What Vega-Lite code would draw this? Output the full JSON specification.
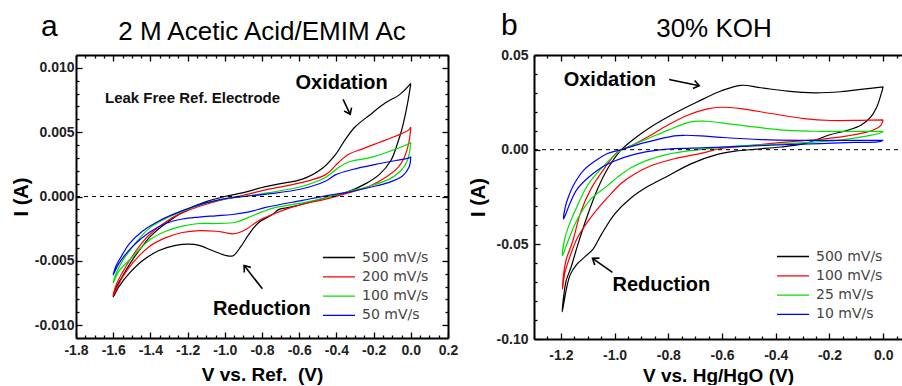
{
  "$schema": "https://vega.github.io/schema/vega-lite/v6.json",
  "padding": {"left": 11, "top": 11, "right": 0, "bottom": 0},
  "spacing": 10,
  "config": {
    "view": {"stroke": null},
    "axis": {"labelFont": "Liberation Sans", "labelFontWeight": "bold", "labelFontSize": 14, "labelColor": "#222", "titleFont": "Liberation Sans", "titleFontWeight": "bold", "titleFontSize": 19, "titleColor": "#000", "domainColor": "#000", "domainWidth": 2, "tickColor": "#000", "tickWidth": 1.3, "grid": false, "labelOverlap": false, "labelBound": false, "labelFlush": false},
    "axisY": {"titleFontSize": 20},
    "legend": {"orient": "none", "title": null, "symbolType": "stroke", "symbolSize": 1024, "symbolStrokeWidth": 1.3, "labelFont": "DejaVu Sans", "labelFontSize": 14, "labelColor": "#444", "labelOffset": 6, "clipHeight": 15, "rowPadding": 4.3, "padding": 0}
  },
  "datasets": {
    "cvA": [
      {"rate": "500 mV/s", "step": 1, "V": 0, "I": 0.0088},
      {"rate": "500 mV/s", "step": 2, "V": -0.018, "I": 0.0072},
      {"rate": "500 mV/s", "step": 3, "V": -0.045, "I": 0.0054},
      {"rate": "500 mV/s", "step": 4, "V": -0.072, "I": 0.0041},
      {"rate": "500 mV/s", "step": 5, "V": -0.107, "I": 0.0028},
      {"rate": "500 mV/s", "step": 6, "V": -0.17, "I": 0.0017},
      {"rate": "500 mV/s", "step": 7, "V": -0.242, "I": 0.001},
      {"rate": "500 mV/s", "step": 8, "V": -0.349, "I": 0.0003},
      {"rate": "500 mV/s", "step": 9, "V": -0.457, "I": -0.0001},
      {"rate": "500 mV/s", "step": 10, "V": -0.583, "I": -0.0006},
      {"rate": "500 mV/s", "step": 11, "V": -0.654, "I": -0.00085},
      {"rate": "500 mV/s", "step": 12, "V": -0.708, "I": -0.001},
      {"rate": "500 mV/s", "step": 13, "V": -0.744, "I": -0.0014},
      {"rate": "500 mV/s", "step": 14, "V": -0.816, "I": -0.002},
      {"rate": "500 mV/s", "step": 15, "V": -0.869, "I": -0.0029},
      {"rate": "500 mV/s", "step": 16, "V": -0.914, "I": -0.0039},
      {"rate": "500 mV/s", "step": 17, "V": -0.955, "I": -0.0046},
      {"rate": "500 mV/s", "step": 18, "V": -0.99, "I": -0.0046},
      {"rate": "500 mV/s", "step": 19, "V": -1.067, "I": -0.0042},
      {"rate": "500 mV/s", "step": 20, "V": -1.138, "I": -0.0038},
      {"rate": "500 mV/s", "step": 21, "V": -1.192, "I": -0.0037},
      {"rate": "500 mV/s", "step": 22, "V": -1.264, "I": -0.0038},
      {"rate": "500 mV/s", "step": 23, "V": -1.354, "I": -0.0042},
      {"rate": "500 mV/s", "step": 24, "V": -1.443, "I": -0.005},
      {"rate": "500 mV/s", "step": 25, "V": -1.515, "I": -0.006},
      {"rate": "500 mV/s", "step": 26, "V": -1.569, "I": -0.007},
      {"rate": "500 mV/s", "step": 27, "V": -1.6, "I": -0.0078},
      {"rate": "500 mV/s", "step": 28, "V": -1.585, "I": -0.0071},
      {"rate": "500 mV/s", "step": 29, "V": -1.55, "I": -0.0062},
      {"rate": "500 mV/s", "step": 30, "V": -1.5, "I": -0.005},
      {"rate": "500 mV/s", "step": 31, "V": -1.45, "I": -0.004},
      {"rate": "500 mV/s", "step": 32, "V": -1.4, "I": -0.0031},
      {"rate": "500 mV/s", "step": 33, "V": -1.3, "I": -0.0019},
      {"rate": "500 mV/s", "step": 34, "V": -1.2, "I": -0.001},
      {"rate": "500 mV/s", "step": 35, "V": -1.1, "I": -0.0004},
      {"rate": "500 mV/s", "step": 36, "V": -1.0, "I": 0},
      {"rate": "500 mV/s", "step": 37, "V": -0.9, "I": 0.0003},
      {"rate": "500 mV/s", "step": 38, "V": -0.8, "I": 0.0007},
      {"rate": "500 mV/s", "step": 39, "V": -0.7, "I": 0.001},
      {"rate": "500 mV/s", "step": 40, "V": -0.583, "I": 0.00135},
      {"rate": "500 mV/s", "step": 41, "V": -0.475, "I": 0.0022},
      {"rate": "500 mV/s", "step": 42, "V": -0.403, "I": 0.0033},
      {"rate": "500 mV/s", "step": 43, "V": -0.349, "I": 0.0045},
      {"rate": "500 mV/s", "step": 44, "V": -0.3, "I": 0.0054},
      {"rate": "500 mV/s", "step": 45, "V": -0.224, "I": 0.0063},
      {"rate": "500 mV/s", "step": 46, "V": -0.134, "I": 0.0073},
      {"rate": "500 mV/s", "step": 47, "V": -0.062, "I": 0.0079},
      {"rate": "500 mV/s", "step": 48, "V": 0, "I": 0.0088},

      {"rate": "200 mV/s", "step": 1, "V": 0, "I": 0.0054},
      {"rate": "200 mV/s", "step": 2, "V": -0.009, "I": 0.0043},
      {"rate": "200 mV/s", "step": 3, "V": -0.036, "I": 0.003},
      {"rate": "200 mV/s", "step": 4, "V": -0.072, "I": 0.0022},
      {"rate": "200 mV/s", "step": 5, "V": -0.134, "I": 0.0015},
      {"rate": "200 mV/s", "step": 6, "V": -0.224, "I": 0.0008},
      {"rate": "200 mV/s", "step": 7, "V": -0.331, "I": 0.0003},
      {"rate": "200 mV/s", "step": 8, "V": -0.457, "I": -0.0002},
      {"rate": "200 mV/s", "step": 9, "V": -0.583, "I": -0.0006},
      {"rate": "200 mV/s", "step": 10, "V": -0.654, "I": -0.0009},
      {"rate": "200 mV/s", "step": 11, "V": -0.744, "I": -0.0014},
      {"rate": "200 mV/s", "step": 12, "V": -0.82, "I": -0.0019},
      {"rate": "200 mV/s", "step": 13, "V": -0.88, "I": -0.0025},
      {"rate": "200 mV/s", "step": 14, "V": -0.923, "I": -0.0028},
      {"rate": "200 mV/s", "step": 15, "V": -0.959, "I": -0.0029},
      {"rate": "200 mV/s", "step": 16, "V": -1.0, "I": -0.0028},
      {"rate": "200 mV/s", "step": 17, "V": -1.049, "I": -0.0027},
      {"rate": "200 mV/s", "step": 18, "V": -1.138, "I": -0.00265},
      {"rate": "200 mV/s", "step": 19, "V": -1.228, "I": -0.0028},
      {"rate": "200 mV/s", "step": 20, "V": -1.317, "I": -0.0032},
      {"rate": "200 mV/s", "step": 21, "V": -1.407, "I": -0.0039},
      {"rate": "200 mV/s", "step": 22, "V": -1.497, "I": -0.0052},
      {"rate": "200 mV/s", "step": 23, "V": -1.551, "I": -0.0063},
      {"rate": "200 mV/s", "step": 24, "V": -1.6, "I": -0.0077},
      {"rate": "200 mV/s", "step": 25, "V": -1.585, "I": -0.0069},
      {"rate": "200 mV/s", "step": 26, "V": -1.55, "I": -0.0059},
      {"rate": "200 mV/s", "step": 27, "V": -1.5, "I": -0.0047},
      {"rate": "200 mV/s", "step": 28, "V": -1.45, "I": -0.0037},
      {"rate": "200 mV/s", "step": 29, "V": -1.4, "I": -0.0029},
      {"rate": "200 mV/s", "step": 30, "V": -1.3, "I": -0.0018},
      {"rate": "200 mV/s", "step": 31, "V": -1.2, "I": -0.0011},
      {"rate": "200 mV/s", "step": 32, "V": -1.1, "I": -0.0006},
      {"rate": "200 mV/s", "step": 33, "V": -1.0, "I": -0.0002},
      {"rate": "200 mV/s", "step": 34, "V": -0.9, "I": 0.0001},
      {"rate": "200 mV/s", "step": 35, "V": -0.762, "I": 0.00057},
      {"rate": "200 mV/s", "step": 36, "V": -0.583, "I": 0.0011},
      {"rate": "200 mV/s", "step": 37, "V": -0.457, "I": 0.0017},
      {"rate": "200 mV/s", "step": 38, "V": -0.385, "I": 0.0027},
      {"rate": "200 mV/s", "step": 39, "V": -0.331, "I": 0.0033},
      {"rate": "200 mV/s", "step": 40, "V": -0.26, "I": 0.0037},
      {"rate": "200 mV/s", "step": 41, "V": -0.17, "I": 0.0042},
      {"rate": "200 mV/s", "step": 42, "V": -0.08, "I": 0.0047},
      {"rate": "200 mV/s", "step": 43, "V": -0.009, "I": 0.0052},
      {"rate": "200 mV/s", "step": 44, "V": 0, "I": 0.0054},

      {"rate": "100 mV/s", "step": 1, "V": 0, "I": 0.0042},
      {"rate": "100 mV/s", "step": 2, "V": -0.018, "I": 0.0028},
      {"rate": "100 mV/s", "step": 3, "V": -0.054, "I": 0.002},
      {"rate": "100 mV/s", "step": 4, "V": -0.116, "I": 0.00135},
      {"rate": "100 mV/s", "step": 5, "V": -0.224, "I": 0.0008},
      {"rate": "100 mV/s", "step": 6, "V": -0.331, "I": 0.0004},
      {"rate": "100 mV/s", "step": 7, "V": -0.457, "I": -0.0001},
      {"rate": "100 mV/s", "step": 8, "V": -0.583, "I": -0.0005},
      {"rate": "100 mV/s", "step": 9, "V": -0.726, "I": -0.00085},
      {"rate": "100 mV/s", "step": 10, "V": -0.8, "I": -0.0012},
      {"rate": "100 mV/s", "step": 11, "V": -0.869, "I": -0.0016},
      {"rate": "100 mV/s", "step": 12, "V": -0.941, "I": -0.002},
      {"rate": "100 mV/s", "step": 13, "V": -1.049, "I": -0.0021},
      {"rate": "100 mV/s", "step": 14, "V": -1.138, "I": -0.0021},
      {"rate": "100 mV/s", "step": 15, "V": -1.228, "I": -0.0023},
      {"rate": "100 mV/s", "step": 16, "V": -1.317, "I": -0.0027},
      {"rate": "100 mV/s", "step": 17, "V": -1.407, "I": -0.0034},
      {"rate": "100 mV/s", "step": 18, "V": -1.497, "I": -0.0047},
      {"rate": "100 mV/s", "step": 19, "V": -1.569, "I": -0.0058},
      {"rate": "100 mV/s", "step": 20, "V": -1.6, "I": -0.0067},
      {"rate": "100 mV/s", "step": 21, "V": -1.585, "I": -0.006},
      {"rate": "100 mV/s", "step": 22, "V": -1.55, "I": -0.005},
      {"rate": "100 mV/s", "step": 23, "V": -1.5, "I": -0.004},
      {"rate": "100 mV/s", "step": 24, "V": -1.45, "I": -0.0031},
      {"rate": "100 mV/s", "step": 25, "V": -1.4, "I": -0.0024},
      {"rate": "100 mV/s", "step": 26, "V": -1.3, "I": -0.0016},
      {"rate": "100 mV/s", "step": 27, "V": -1.2, "I": -0.001},
      {"rate": "100 mV/s", "step": 28, "V": -1.1, "I": -0.0005},
      {"rate": "100 mV/s", "step": 29, "V": -1.0, "I": -0.0002},
      {"rate": "100 mV/s", "step": 30, "V": -0.9, "I": 0},
      {"rate": "100 mV/s", "step": 31, "V": -0.762, "I": 0.0003},
      {"rate": "100 mV/s", "step": 32, "V": -0.583, "I": 0.0008},
      {"rate": "100 mV/s", "step": 33, "V": -0.457, "I": 0.0015},
      {"rate": "100 mV/s", "step": 34, "V": -0.385, "I": 0.0023},
      {"rate": "100 mV/s", "step": 35, "V": -0.331, "I": 0.0027},
      {"rate": "100 mV/s", "step": 36, "V": -0.224, "I": 0.003},
      {"rate": "100 mV/s", "step": 37, "V": -0.116, "I": 0.0035},
      {"rate": "100 mV/s", "step": 38, "V": -0.027, "I": 0.004},
      {"rate": "100 mV/s", "step": 39, "V": 0, "I": 0.0042},

      {"rate": "50 mV/s", "step": 1, "V": 0, "I": 0.0031},
      {"rate": "50 mV/s", "step": 2, "V": -0.009, "I": 0.0023},
      {"rate": "50 mV/s", "step": 3, "V": -0.045, "I": 0.0016},
      {"rate": "50 mV/s", "step": 4, "V": -0.116, "I": 0.0011},
      {"rate": "50 mV/s", "step": 5, "V": -0.224, "I": 0.0007},
      {"rate": "50 mV/s", "step": 6, "V": -0.349, "I": 0.0003},
      {"rate": "50 mV/s", "step": 7, "V": -0.457, "I": 0.00005},
      {"rate": "50 mV/s", "step": 8, "V": -0.583, "I": -0.0003},
      {"rate": "50 mV/s", "step": 9, "V": -0.78, "I": -0.00085},
      {"rate": "50 mV/s", "step": 10, "V": -0.869, "I": -0.0012},
      {"rate": "50 mV/s", "step": 11, "V": -0.959, "I": -0.0014},
      {"rate": "50 mV/s", "step": 12, "V": -1.049, "I": -0.0015},
      {"rate": "50 mV/s", "step": 13, "V": -1.138, "I": -0.0016},
      {"rate": "50 mV/s", "step": 14, "V": -1.228, "I": -0.00175},
      {"rate": "50 mV/s", "step": 15, "V": -1.317, "I": -0.0021},
      {"rate": "50 mV/s", "step": 16, "V": -1.407, "I": -0.0028},
      {"rate": "50 mV/s", "step": 17, "V": -1.497, "I": -0.0039},
      {"rate": "50 mV/s", "step": 18, "V": -1.569, "I": -0.0052},
      {"rate": "50 mV/s", "step": 19, "V": -1.6, "I": -0.0061},
      {"rate": "50 mV/s", "step": 20, "V": -1.585, "I": -0.0054},
      {"rate": "50 mV/s", "step": 21, "V": -1.55, "I": -0.0045},
      {"rate": "50 mV/s", "step": 22, "V": -1.515, "I": -0.0037},
      {"rate": "50 mV/s", "step": 23, "V": -1.443, "I": -0.0027},
      {"rate": "50 mV/s", "step": 24, "V": -1.354, "I": -0.0019},
      {"rate": "50 mV/s", "step": 25, "V": -1.228, "I": -0.0011},
      {"rate": "50 mV/s", "step": 26, "V": -1.102, "I": -0.0005},
      {"rate": "50 mV/s", "step": 27, "V": -1.013, "I": -0.0002},
      {"rate": "50 mV/s", "step": 28, "V": -0.9, "I": 0},
      {"rate": "50 mV/s", "step": 29, "V": -0.762, "I": 0.0002},
      {"rate": "50 mV/s", "step": 30, "V": -0.583, "I": 0.0006},
      {"rate": "50 mV/s", "step": 31, "V": -0.457, "I": 0.0012},
      {"rate": "50 mV/s", "step": 32, "V": -0.403, "I": 0.0017},
      {"rate": "50 mV/s", "step": 33, "V": -0.313, "I": 0.0021},
      {"rate": "50 mV/s", "step": 34, "V": -0.188, "I": 0.0025},
      {"rate": "50 mV/s", "step": 35, "V": -0.08, "I": 0.0028},
      {"rate": "50 mV/s", "step": 36, "V": -0.009, "I": 0.003},
      {"rate": "50 mV/s", "step": 37, "V": 0, "I": 0.0031}
    ],
    "cvB": [
      {"rate": "500 mV/s", "step": 1, "V": 0, "I": 0.0332},
      {"rate": "500 mV/s", "step": 2, "V": -0.009, "I": 0.0288},
      {"rate": "500 mV/s", "step": 3, "V": -0.021, "I": 0.0235},
      {"rate": "500 mV/s", "step": 4, "V": -0.046, "I": 0.0173},
      {"rate": "500 mV/s", "step": 5, "V": -0.083, "I": 0.0129},
      {"rate": "500 mV/s", "step": 6, "V": -0.133, "I": 0.0102},
      {"rate": "500 mV/s", "step": 7, "V": -0.195, "I": 0.008},
      {"rate": "500 mV/s", "step": 8, "V": -0.244, "I": 0.0055},
      {"rate": "500 mV/s", "step": 9, "V": -0.294, "I": 0.0032},
      {"rate": "500 mV/s", "step": 10, "V": -0.381, "I": 0.0014},
      {"rate": "500 mV/s", "step": 11, "V": -0.48, "I": 0.0002},
      {"rate": "500 mV/s", "step": 12, "V": -0.55, "I": -0.0008},
      {"rate": "500 mV/s", "step": 13, "V": -0.617, "I": -0.0025},
      {"rate": "500 mV/s", "step": 14, "V": -0.716, "I": -0.0075},
      {"rate": "500 mV/s", "step": 15, "V": -0.803, "I": -0.014},
      {"rate": "500 mV/s", "step": 16, "V": -0.877, "I": -0.0195},
      {"rate": "500 mV/s", "step": 17, "V": -0.939, "I": -0.0255},
      {"rate": "500 mV/s", "step": 18, "V": -1.0, "I": -0.034},
      {"rate": "500 mV/s", "step": 19, "V": -1.05, "I": -0.045},
      {"rate": "500 mV/s", "step": 20, "V": -1.08, "I": -0.0525},
      {"rate": "500 mV/s", "step": 21, "V": -1.11, "I": -0.0565},
      {"rate": "500 mV/s", "step": 22, "V": -1.14, "I": -0.0605},
      {"rate": "500 mV/s", "step": 23, "V": -1.165, "I": -0.066},
      {"rate": "500 mV/s", "step": 24, "V": -1.18, "I": -0.074},
      {"rate": "500 mV/s", "step": 25, "V": -1.195, "I": -0.0857},
      {"rate": "500 mV/s", "step": 26, "V": -1.19, "I": -0.078},
      {"rate": "500 mV/s", "step": 27, "V": -1.18, "I": -0.069},
      {"rate": "500 mV/s", "step": 28, "V": -1.163, "I": -0.0625},
      {"rate": "500 mV/s", "step": 29, "V": -1.138, "I": -0.0507},
      {"rate": "500 mV/s", "step": 30, "V": -1.101, "I": -0.0348},
      {"rate": "500 mV/s", "step": 31, "V": -1.063, "I": -0.0207},
      {"rate": "500 mV/s", "step": 32, "V": -1.026, "I": -0.0101},
      {"rate": "500 mV/s", "step": 33, "V": -0.977, "I": -0.0004},
      {"rate": "500 mV/s", "step": 34, "V": -0.927, "I": 0.0058},
      {"rate": "500 mV/s", "step": 35, "V": -0.865, "I": 0.012},
      {"rate": "500 mV/s", "step": 36, "V": -0.778, "I": 0.0191},
      {"rate": "500 mV/s", "step": 37, "V": -0.691, "I": 0.0253},
      {"rate": "500 mV/s", "step": 38, "V": -0.604, "I": 0.031},
      {"rate": "500 mV/s", "step": 39, "V": -0.53, "I": 0.034},
      {"rate": "500 mV/s", "step": 40, "V": -0.455, "I": 0.0327},
      {"rate": "500 mV/s", "step": 41, "V": -0.356, "I": 0.0309},
      {"rate": "500 mV/s", "step": 42, "V": -0.257, "I": 0.03},
      {"rate": "500 mV/s", "step": 43, "V": -0.158, "I": 0.0306},
      {"rate": "500 mV/s", "step": 44, "V": -0.083, "I": 0.0318},
      {"rate": "500 mV/s", "step": 45, "V": 0, "I": 0.0332},

      {"rate": "100 mV/s", "step": 1, "V": 0, "I": 0.0157},
      {"rate": "100 mV/s", "step": 2, "V": -0.008, "I": 0.013},
      {"rate": "100 mV/s", "step": 3, "V": -0.021, "I": 0.0115},
      {"rate": "100 mV/s", "step": 4, "V": -0.058, "I": 0.0094},
      {"rate": "100 mV/s", "step": 5, "V": -0.133, "I": 0.0073},
      {"rate": "100 mV/s", "step": 6, "V": -0.232, "I": 0.0055},
      {"rate": "100 mV/s", "step": 7, "V": -0.356, "I": 0.0041},
      {"rate": "100 mV/s", "step": 8, "V": -0.48, "I": 0.0024},
      {"rate": "100 mV/s", "step": 9, "V": -0.604, "I": 0.0006},
      {"rate": "100 mV/s", "step": 10, "V": -0.679, "I": -0.002},
      {"rate": "100 mV/s", "step": 11, "V": -0.778, "I": -0.0048},
      {"rate": "100 mV/s", "step": 12, "V": -0.865, "I": -0.0085},
      {"rate": "100 mV/s", "step": 13, "V": -0.927, "I": -0.013},
      {"rate": "100 mV/s", "step": 14, "V": -0.977, "I": -0.018},
      {"rate": "100 mV/s", "step": 15, "V": -1.008, "I": -0.0225},
      {"rate": "100 mV/s", "step": 16, "V": -1.05, "I": -0.029},
      {"rate": "100 mV/s", "step": 17, "V": -1.1, "I": -0.038},
      {"rate": "100 mV/s", "step": 18, "V": -1.14, "I": -0.047},
      {"rate": "100 mV/s", "step": 19, "V": -1.165, "I": -0.056},
      {"rate": "100 mV/s", "step": 20, "V": -1.185, "I": -0.065},
      {"rate": "100 mV/s", "step": 21, "V": -1.194, "I": -0.0737},
      {"rate": "100 mV/s", "step": 22, "V": -1.19, "I": -0.066},
      {"rate": "100 mV/s", "step": 23, "V": -1.18, "I": -0.058},
      {"rate": "100 mV/s", "step": 24, "V": -1.157, "I": -0.0489},
      {"rate": "100 mV/s", "step": 25, "V": -1.126, "I": -0.033},
      {"rate": "100 mV/s", "step": 26, "V": -1.088, "I": -0.0207},
      {"rate": "100 mV/s", "step": 27, "V": -1.039, "I": -0.0101},
      {"rate": "100 mV/s", "step": 28, "V": -0.989, "I": -0.0012},
      {"rate": "100 mV/s", "step": 29, "V": -0.939, "I": 0.002},
      {"rate": "100 mV/s", "step": 30, "V": -0.877, "I": 0.0067},
      {"rate": "100 mV/s", "step": 31, "V": -0.803, "I": 0.0129},
      {"rate": "100 mV/s", "step": 32, "V": -0.728, "I": 0.0182},
      {"rate": "100 mV/s", "step": 33, "V": -0.654, "I": 0.0215},
      {"rate": "100 mV/s", "step": 34, "V": -0.604, "I": 0.0224},
      {"rate": "100 mV/s", "step": 35, "V": -0.53, "I": 0.0217},
      {"rate": "100 mV/s", "step": 36, "V": -0.418, "I": 0.0191},
      {"rate": "100 mV/s", "step": 37, "V": -0.294, "I": 0.0164},
      {"rate": "100 mV/s", "step": 38, "V": -0.195, "I": 0.0154},
      {"rate": "100 mV/s", "step": 39, "V": -0.083, "I": 0.0155},
      {"rate": "100 mV/s", "step": 40, "V": 0, "I": 0.0157},

      {"rate": "25 mV/s", "step": 1, "V": 0, "I": 0.0097},
      {"rate": "25 mV/s", "step": 2, "V": -0.01, "I": 0.0088},
      {"rate": "25 mV/s", "step": 3, "V": -0.058, "I": 0.0073},
      {"rate": "25 mV/s", "step": 4, "V": -0.17, "I": 0.0049},
      {"rate": "25 mV/s", "step": 5, "V": -0.294, "I": 0.0037},
      {"rate": "25 mV/s", "step": 6, "V": -0.418, "I": 0.0027},
      {"rate": "25 mV/s", "step": 7, "V": -0.542, "I": 0.002},
      {"rate": "25 mV/s", "step": 8, "V": -0.604, "I": 0.0012},
      {"rate": "25 mV/s", "step": 9, "V": -0.716, "I": -0.0005},
      {"rate": "25 mV/s", "step": 10, "V": -0.803, "I": -0.0025},
      {"rate": "25 mV/s", "step": 11, "V": -0.877, "I": -0.0055},
      {"rate": "25 mV/s", "step": 12, "V": -0.939, "I": -0.0095},
      {"rate": "25 mV/s", "step": 13, "V": -0.989, "I": -0.0145},
      {"rate": "25 mV/s", "step": 14, "V": -1.026, "I": -0.019},
      {"rate": "25 mV/s", "step": 15, "V": -1.088, "I": -0.026},
      {"rate": "25 mV/s", "step": 16, "V": -1.138, "I": -0.0366},
      {"rate": "25 mV/s", "step": 17, "V": -1.175, "I": -0.0489},
      {"rate": "25 mV/s", "step": 18, "V": -1.194, "I": -0.056},
      {"rate": "25 mV/s", "step": 19, "V": -1.187, "I": -0.048},
      {"rate": "25 mV/s", "step": 20, "V": -1.17, "I": -0.04},
      {"rate": "25 mV/s", "step": 21, "V": -1.144, "I": -0.0313},
      {"rate": "25 mV/s", "step": 22, "V": -1.101, "I": -0.0189},
      {"rate": "25 mV/s", "step": 23, "V": -1.051, "I": -0.0101},
      {"rate": "25 mV/s", "step": 24, "V": -1.001, "I": -0.003},
      {"rate": "25 mV/s", "step": 25, "V": -0.977, "I": -0.0004},
      {"rate": "25 mV/s", "step": 26, "V": -0.939, "I": 0.002},
      {"rate": "25 mV/s", "step": 27, "V": -0.877, "I": 0.0058},
      {"rate": "25 mV/s", "step": 28, "V": -0.803, "I": 0.0102},
      {"rate": "25 mV/s", "step": 29, "V": -0.716, "I": 0.0147},
      {"rate": "25 mV/s", "step": 30, "V": -0.66, "I": 0.015},
      {"rate": "25 mV/s", "step": 31, "V": -0.604, "I": 0.0142},
      {"rate": "25 mV/s", "step": 32, "V": -0.48, "I": 0.012},
      {"rate": "25 mV/s", "step": 33, "V": -0.356, "I": 0.0102},
      {"rate": "25 mV/s", "step": 34, "V": -0.232, "I": 0.0097},
      {"rate": "25 mV/s", "step": 35, "V": -0.083, "I": 0.0097},
      {"rate": "25 mV/s", "step": 36, "V": 0, "I": 0.0097},

      {"rate": "10 mV/s", "step": 1, "V": 0, "I": 0.0049},
      {"rate": "10 mV/s", "step": 2, "V": -0.02, "I": 0.0041},
      {"rate": "10 mV/s", "step": 3, "V": -0.108, "I": 0.0038},
      {"rate": "10 mV/s", "step": 4, "V": -0.232, "I": 0.0032},
      {"rate": "10 mV/s", "step": 5, "V": -0.356, "I": 0.0027},
      {"rate": "10 mV/s", "step": 6, "V": -0.48, "I": 0.002},
      {"rate": "10 mV/s", "step": 7, "V": -0.604, "I": 0.0013},
      {"rate": "10 mV/s", "step": 8, "V": -0.716, "I": 0.0008},
      {"rate": "10 mV/s", "step": 9, "V": -0.84, "I": -0.0002},
      {"rate": "10 mV/s", "step": 10, "V": -0.927, "I": -0.0025},
      {"rate": "10 mV/s", "step": 11, "V": -1.0, "I": -0.006},
      {"rate": "10 mV/s", "step": 12, "V": -1.05, "I": -0.0095},
      {"rate": "10 mV/s", "step": 13, "V": -1.1, "I": -0.015},
      {"rate": "10 mV/s", "step": 14, "V": -1.14, "I": -0.021},
      {"rate": "10 mV/s", "step": 15, "V": -1.165, "I": -0.028},
      {"rate": "10 mV/s", "step": 16, "V": -1.19, "I": -0.0366},
      {"rate": "10 mV/s", "step": 17, "V": -1.183, "I": -0.03},
      {"rate": "10 mV/s", "step": 18, "V": -1.172, "I": -0.025},
      {"rate": "10 mV/s", "step": 19, "V": -1.15, "I": -0.018},
      {"rate": "10 mV/s", "step": 20, "V": -1.113, "I": -0.0105},
      {"rate": "10 mV/s", "step": 21, "V": -1.063, "I": -0.005},
      {"rate": "10 mV/s", "step": 22, "V": -1.026, "I": -0.002},
      {"rate": "10 mV/s", "step": 23, "V": -0.964, "I": 0.0005},
      {"rate": "10 mV/s", "step": 24, "V": -0.914, "I": 0.0027},
      {"rate": "10 mV/s", "step": 25, "V": -0.853, "I": 0.0049},
      {"rate": "10 mV/s", "step": 26, "V": -0.778, "I": 0.0073},
      {"rate": "10 mV/s", "step": 27, "V": -0.741, "I": 0.0076},
      {"rate": "10 mV/s", "step": 28, "V": -0.679, "I": 0.0073},
      {"rate": "10 mV/s", "step": 29, "V": -0.604, "I": 0.0065},
      {"rate": "10 mV/s", "step": 30, "V": -0.455, "I": 0.0053},
      {"rate": "10 mV/s", "step": 31, "V": -0.294, "I": 0.0049},
      {"rate": "10 mV/s", "step": 32, "V": -0.108, "I": 0.0049},
      {"rate": "10 mV/s", "step": 33, "V": 0, "I": 0.0049}
    ]
  },
  "hconcat": [
    {
      "width": 372,
      "height": 283,
      "resolve": {"axis": {"x": "independent", "y": "independent"}},
      "layer": [
        {
          "data": {"name": "cvA"},
          "mark": {"type": "line", "interpolate": "catmull-rom", "strokeWidth": 1.2},
          "encoding": {
            "x": {"field": "V", "type": "quantitative", "scale": {"domain": [-1.8, 0.2], "nice": false, "zero": false},
              "axis": {"orient": "bottom", "title": "V vs. Ref.\u00a0 (V)", "values": [-1.8,-1.75,-1.7,-1.65,-1.6,-1.55,-1.5,-1.45,-1.4,-1.35,-1.3,-1.25,-1.2,-1.15,-1.1,-1.05,-1,-0.95,-0.9,-0.85,-0.8,-0.75,-0.7,-0.65,-0.6,-0.55,-0.5,-0.45,-0.4,-0.35,-0.3,-0.25,-0.2,-0.15,-0.1,-0.05,0,0.05,0.1,0.15,0.2],
                "labelExpr": "abs(datum.value*5-round(datum.value*5))<0.001 ? replace(format(datum.value,'.1f'),'−','-') : ''",
                "tickSize": {"condition": {"test": "abs(datum.value*5-round(datum.value*5))<0.001", "value": -6}, "value": -3},
                "labelPadding": 11, "titlePadding": 5}},
            "y": {"field": "I", "type": "quantitative", "scale": {"domain": [-0.011, 0.011], "nice": false, "zero": false},
              "axis": {"orient": "left", "title": "I (A)", "values": [-0.011,-0.01,-0.009,-0.008,-0.007,-0.006,-0.005,-0.004,-0.003,-0.002,-0.001,0,0.001,0.002,0.003,0.004,0.005,0.006,0.007,0.008,0.009,0.01,0.011],
                "labelExpr": "abs(datum.value*200-round(datum.value*200))<0.001 ? replace(format(datum.value,'.3f'),'−','-') : ''",
                "tickSize": {"condition": {"test": "abs(datum.value*200-round(datum.value*200))<0.001", "value": -6}, "value": -3},
                "labelPadding": 8, "titlePadding": 3}},
            "color": {"field": "rate", "type": "nominal",
              "scale": {"domain": ["500 mV/s", "200 mV/s", "100 mV/s", "50 mV/s"], "range": ["#000000", "#ff0000", "#00e000", "#0000ff"]},
              "legend": {"legendX": 246, "legendY": 195}},
            "order": {"field": "step", "type": "quantitative"}
          }
        },
        {
          "data": {"values": [{}]},
          "mark": {"type": "rule", "strokeDash": [4, 4], "color": "#000", "strokeWidth": 1},
          "encoding": {
            "x": {"datum": -1.8, "type": "quantitative", "scale": {"domain": [-1.8, 0.2], "nice": false, "zero": false},
              "axis": {"orient": "top", "title": null, "labels": false, "values": [-1.8,-1.75,-1.7,-1.65,-1.6,-1.55,-1.5,-1.45,-1.4,-1.35,-1.3,-1.25,-1.2,-1.15,-1.1,-1.05,-1,-0.95,-0.9,-0.85,-0.8,-0.75,-0.7,-0.65,-0.6,-0.55,-0.5,-0.45,-0.4,-0.35,-0.3,-0.25,-0.2,-0.15,-0.1,-0.05,0,0.05,0.1,0.15,0.2],
                "tickSize": {"condition": {"test": "abs(datum.value*5-round(datum.value*5))<0.001", "value": -6}, "value": -3}}},
            "x2": {"datum": 0.2},
            "y": {"datum": 0, "type": "quantitative", "scale": {"domain": [-0.011, 0.011], "nice": false, "zero": false},
              "axis": {"orient": "right", "title": null, "labels": false, "values": [-0.011,-0.01,-0.009,-0.008,-0.007,-0.006,-0.005,-0.004,-0.003,-0.002,-0.001,0,0.001,0.002,0.003,0.004,0.005,0.006,0.007,0.008,0.009,0.01,0.011],
                "tickSize": {"condition": {"test": "abs(datum.value*200-round(datum.value*200))<0.001", "value": -6}, "value": -3}}}
          }
        },
        {
          "data": {"values": [{}]},
          "mark": {"type": "text", "text": "2 M Acetic Acid/EMIM Ac", "font": "Liberation Sans", "fontSize": 26, "align": "center", "baseline": "alphabetic", "color": "#000"},
          "encoding": {
            "x": {"datum": -0.8, "type": "quantitative", "scale": {"domain": [-1.8, 0.2], "nice": false, "zero": false}, "axis": null},
            "y": {"datum": 0.01215, "type": "quantitative", "scale": {"domain": [-0.011, 0.011], "nice": false, "zero": false}, "axis": null}
          }
        },
        {
          "data": {"values": [{}]},
          "mark": {"type": "text", "text": "a", "font": "Liberation Sans", "fontSize": 30, "align": "left", "baseline": "alphabetic", "color": "#000"},
          "encoding": {
            "x": {"datum": -1.988, "type": "quantitative", "scale": {"domain": [-1.8, 0.2], "nice": false, "zero": false}, "axis": null},
            "y": {"datum": 0.01246, "type": "quantitative", "scale": {"domain": [-0.011, 0.011], "nice": false, "zero": false}, "axis": null}
          }
        },
        {
          "data": {"values": [{}]},
          "mark": {"type": "text", "text": "Leak Free Ref. Electrode", "font": "Liberation Sans", "fontWeight": "bold", "fontSize": 15, "align": "left", "baseline": "alphabetic", "color": "#111"},
          "encoding": {
            "x": {"datum": -1.644, "type": "quantitative", "scale": {"domain": [-1.8, 0.2], "nice": false, "zero": false}, "axis": null},
            "y": {"datum": 0.00729, "type": "quantitative", "scale": {"domain": [-0.011, 0.011], "nice": false, "zero": false}, "axis": null}
          }
        },
        {
          "data": {"values": [{}]},
          "mark": {"type": "text", "text": "Oxidation", "font": "Liberation Sans", "fontWeight": "bold", "fontSize": 20, "align": "center", "baseline": "alphabetic", "color": "#000"},
          "encoding": {
            "x": {"datum": -0.372, "type": "quantitative", "scale": {"domain": [-1.8, 0.2], "nice": false, "zero": false}, "axis": null},
            "y": {"datum": 0.00835, "type": "quantitative", "scale": {"domain": [-0.011, 0.011], "nice": false, "zero": false}, "axis": null}
          }
        },
        {
          "data": {"values": [{}]},
          "mark": {"type": "text", "text": "Reduction", "font": "Liberation Sans", "fontWeight": "bold", "fontSize": 20, "align": "center", "baseline": "alphabetic", "color": "#000"},
          "encoding": {
            "x": {"datum": -0.801, "type": "quantitative", "scale": {"domain": [-1.8, 0.2], "nice": false, "zero": false}, "axis": null},
            "y": {"datum": -0.00925, "type": "quantitative", "scale": {"domain": [-0.011, 0.011], "nice": false, "zero": false}, "axis": null}
          }
        },
        {
          "data": {"values": [{}]},
          "mark": {"type": "rule", "color": "#000", "strokeWidth": 1.6},
          "encoding": {
            "x": {"datum": -0.364, "type": "quantitative", "scale": {"domain": [-1.8, 0.2], "nice": false, "zero": false}, "axis": null},
            "y": {"datum": 0.00755, "type": "quantitative", "scale": {"domain": [-0.011, 0.011], "nice": false, "zero": false}, "axis": null},
            "x2": {"datum": -0.326},
            "y2": {"datum": 0.00639}
          }
        },
        {
          "data": {"values": [{}]},
          "mark": {"type": "point", "shape": "M-1,-0.75L0,0L-1,0.75", "size": 121, "filled": false, "stroke": "#000", "strokeWidth": 1.6, "angle": 65, "opacity": 1},
          "encoding": {
            "x": {"datum": -0.326, "type": "quantitative", "scale": {"domain": [-1.8, 0.2], "nice": false, "zero": false}, "axis": null},
            "y": {"datum": 0.00639, "type": "quantitative", "scale": {"domain": [-0.011, 0.011], "nice": false, "zero": false}, "axis": null}
          }
        },
        {
          "data": {"values": [{}]},
          "mark": {"type": "rule", "color": "#000", "strokeWidth": 1.6},
          "encoding": {
            "x": {"datum": -0.798, "type": "quantitative", "scale": {"domain": [-1.8, 0.2], "nice": false, "zero": false}, "axis": null},
            "y": {"datum": -0.00718, "type": "quantitative", "scale": {"domain": [-0.011, 0.011], "nice": false, "zero": false}, "axis": null},
            "x2": {"datum": -0.896},
            "y2": {"datum": -0.00537}
          }
        },
        {
          "data": {"values": [{}]},
          "mark": {"type": "point", "shape": "M-1,-0.75L0,0L-1,0.75", "size": 121, "filled": false, "stroke": "#000", "strokeWidth": 1.6, "angle": 232, "opacity": 1},
          "encoding": {
            "x": {"datum": -0.896, "type": "quantitative", "scale": {"domain": [-1.8, 0.2], "nice": false, "zero": false}, "axis": null},
            "y": {"datum": -0.00537, "type": "quantitative", "scale": {"domain": [-0.011, 0.011], "nice": false, "zero": false}, "axis": null}
          }
        }
      ]
    },
    {
      "width": 368,
      "height": 284,
      "resolve": {"axis": {"x": "independent", "y": "independent"}},
      "layer": [
        {
          "data": {"name": "cvB"},
          "mark": {"type": "line", "interpolate": "catmull-rom", "strokeWidth": 1.2},
          "encoding": {
            "x": {"field": "V", "type": "quantitative", "scale": {"domain": [-1.3, 0.07], "nice": false, "zero": false},
              "axis": {"orient": "bottom", "title": "V vs. Hg/HgO (V)", "values": [-1.3,-1.25,-1.2,-1.15,-1.1,-1.05,-1,-0.95,-0.9,-0.85,-0.8,-0.75,-0.7,-0.65,-0.6,-0.55,-0.5,-0.45,-0.4,-0.35,-0.3,-0.25,-0.2,-0.15,-0.1,-0.05,0,0.05],
                "labelExpr": "abs(datum.value*5-round(datum.value*5))<0.001 ? replace(format(datum.value,'.1f'),'−','-') : ''",
                "tickSize": {"condition": {"test": "abs(datum.value*5-round(datum.value*5))<0.001", "value": -6}, "value": -3},
                "labelPadding": 15, "titlePadding": 1}},
            "y": {"field": "I", "type": "quantitative", "scale": {"domain": [-0.1, 0.05], "nice": false, "zero": false},
              "axis": {"orient": "left", "title": "I (A)", "values": [-0.1,-0.09,-0.08,-0.07,-0.06,-0.05,-0.04,-0.03,-0.02,-0.01,0,0.01,0.02,0.03,0.04,0.05],
                "labelExpr": "abs(datum.value*20-round(datum.value*20))<0.001 ? replace(format(datum.value,'.2f'),'−','-') : ''",
                "tickSize": {"condition": {"test": "abs(datum.value*20-round(datum.value*20))<0.001", "value": -6}, "value": -3},
                "labelPadding": 12, "titlePadding": 8}},
            "color": {"field": "rate", "type": "nominal",
              "scale": {"domain": ["500 mV/s", "100 mV/s", "25 mV/s", "10 mV/s"], "range": ["#000000", "#ff0000", "#00e000", "#0000ff"]},
              "legend": {"legendX": 242, "legendY": 194}},
            "order": {"field": "step", "type": "quantitative"}
          }
        },
        {
          "data": {"values": [{}]},
          "mark": {"type": "rule", "strokeDash": [4, 4], "color": "#000", "strokeWidth": 1},
          "encoding": {
            "x": {"datum": -1.3, "type": "quantitative", "scale": {"domain": [-1.3, 0.07], "nice": false, "zero": false},
              "axis": {"orient": "top", "title": null, "labels": false, "values": [-1.3,-1.25,-1.2,-1.15,-1.1,-1.05,-1,-0.95,-0.9,-0.85,-0.8,-0.75,-0.7,-0.65,-0.6,-0.55,-0.5,-0.45,-0.4,-0.35,-0.3,-0.25,-0.2,-0.15,-0.1,-0.05,0,0.05],
                "tickSize": {"condition": {"test": "abs(datum.value*5-round(datum.value*5))<0.001", "value": -6}, "value": -3}}},
            "x2": {"datum": 0.07},
            "y": {"datum": 0, "type": "quantitative", "scale": {"domain": [-0.1, 0.05], "nice": false, "zero": false}, "axis": null}
          }
        },
        {
          "data": {"values": [{}]},
          "mark": {"type": "text", "text": "30% KOH", "font": "Liberation Sans", "fontSize": 26, "align": "center", "baseline": "alphabetic", "color": "#000"},
          "encoding": {
            "x": {"datum": -0.63, "type": "quantitative", "scale": {"domain": [-1.3, 0.07], "nice": false, "zero": false}, "axis": null},
            "y": {"datum": 0.0594, "type": "quantitative", "scale": {"domain": [-0.1, 0.05], "nice": false, "zero": false}, "axis": null}
          }
        },
        {
          "data": {"values": [{}]},
          "mark": {"type": "text", "text": "b", "font": "Liberation Sans", "fontSize": 30, "align": "left", "baseline": "alphabetic", "color": "#000"},
          "encoding": {
            "x": {"datum": -1.423, "type": "quantitative", "scale": {"domain": [-1.3, 0.07], "nice": false, "zero": false}, "axis": null},
            "y": {"datum": 0.0604, "type": "quantitative", "scale": {"domain": [-0.1, 0.05], "nice": false, "zero": false}, "axis": null}
          }
        },
        {
          "data": {"values": [{}]},
          "mark": {"type": "text", "text": "Oxidation", "font": "Liberation Sans", "fontWeight": "bold", "fontSize": 20, "align": "center", "baseline": "alphabetic", "color": "#000"},
          "encoding": {
            "x": {"datum": -1.018, "type": "quantitative", "scale": {"domain": [-1.3, 0.07], "nice": false, "zero": false}, "axis": null},
            "y": {"datum": 0.0334, "type": "quantitative", "scale": {"domain": [-0.1, 0.05], "nice": false, "zero": false}, "axis": null}
          }
        },
        {
          "data": {"values": [{}]},
          "mark": {"type": "text", "text": "Reduction", "font": "Liberation Sans", "fontWeight": "bold", "fontSize": 20, "align": "center", "baseline": "alphabetic", "color": "#000"},
          "encoding": {
            "x": {"datum": -0.826, "type": "quantitative", "scale": {"domain": [-1.3, 0.07], "nice": false, "zero": false}, "axis": null},
            "y": {"datum": -0.0748, "type": "quantitative", "scale": {"domain": [-0.1, 0.05], "nice": false, "zero": false}, "axis": null}
          }
        },
        {
          "data": {"values": [{}]},
          "mark": {"type": "rule", "color": "#000", "strokeWidth": 1.6},
          "encoding": {
            "x": {"datum": -0.797, "type": "quantitative", "scale": {"domain": [-1.3, 0.07], "nice": false, "zero": false}, "axis": null},
            "y": {"datum": 0.0371, "type": "quantitative", "scale": {"domain": [-0.1, 0.05], "nice": false, "zero": false}, "axis": null},
            "x2": {"datum": -0.685},
            "y2": {"datum": 0.0338}
          }
        },
        {
          "data": {"values": [{}]},
          "mark": {"type": "point", "shape": "M-1,-0.75L0,0L-1,0.75", "size": 121, "filled": false, "stroke": "#000", "strokeWidth": 1.6, "angle": 12, "opacity": 1},
          "encoding": {
            "x": {"datum": -0.685, "type": "quantitative", "scale": {"domain": [-1.3, 0.07], "nice": false, "zero": false}, "axis": null},
            "y": {"datum": 0.0338, "type": "quantitative", "scale": {"domain": [-0.1, 0.05], "nice": false, "zero": false}, "axis": null}
          }
        },
        {
          "data": {"values": [{}]},
          "mark": {"type": "rule", "color": "#000", "strokeWidth": 1.6},
          "encoding": {
            "x": {"datum": -1.008, "type": "quantitative", "scale": {"domain": [-1.3, 0.07], "nice": false, "zero": false}, "axis": null},
            "y": {"datum": -0.0648, "type": "quantitative", "scale": {"domain": [-0.1, 0.05], "nice": false, "zero": false}, "axis": null},
            "x2": {"datum": -1.082},
            "y2": {"datum": -0.0574}
          }
        },
        {
          "data": {"values": [{}]},
          "mark": {"type": "point", "shape": "M-1,-0.75L0,0L-1,0.75", "size": 121, "filled": false, "stroke": "#000", "strokeWidth": 1.6, "angle": 215, "opacity": 1},
          "encoding": {
            "x": {"datum": -1.082, "type": "quantitative", "scale": {"domain": [-1.3, 0.07], "nice": false, "zero": false}, "axis": null},
            "y": {"datum": -0.0574, "type": "quantitative", "scale": {"domain": [-0.1, 0.05], "nice": false, "zero": false}, "axis": null}
          }
        }
      ]
    }
  ],
  "resolve": {"scale": {"color": "independent"}, "legend": {"color": "independent"}}
}
